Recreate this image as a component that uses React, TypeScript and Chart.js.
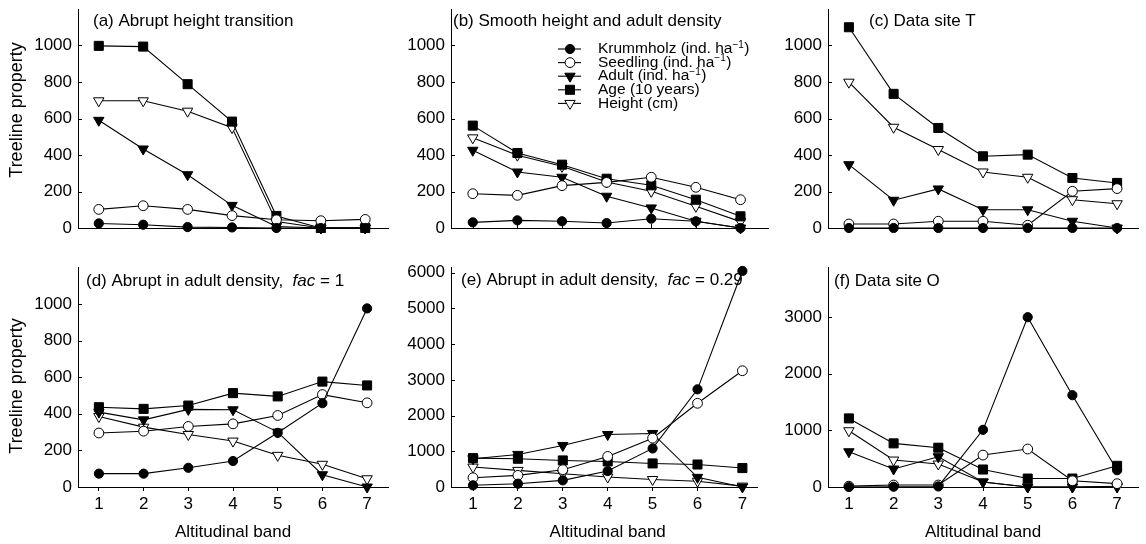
import React, { useEffect, useRef } from "react";
import { Chart, registerables } from "chart.js";
Chart.register(...registerables);

const FONT = '"Liberation Sans", Arial, Helvetica, sans-serif';

const bands = [1, 2, 3, 4, 5, 6, 7];
const seriesNames = ["Krummholz", "Seedling", "Adult", "Age", "Height"];
const legendMain = ["Krummholz (ind. ha", "Seedling (ind. ha", "Adult (ind. ha", "Age (10 years)", "Height (cm)"];
const legendSup = ["−1", "−1", "−1", "", ""];
const legendTail = [")", ")", ")", "", ""];

const yTicksSmall = [0, 200, 400, 600, 800, 1000];
const yTicksE = [0, 1000, 2000, 3000, 4000, 5000, 6000];
const yTicksF = [0, 1000, 2000, 3000];

// (a) Abrupt height transition
const aKrummholz = [25, 18, 5, 3, 0, 0, 0];
const aSeedling = [102, 122, 102, 68, 45, 40, 47];
const aAdult = [590, 433, 292, 124, 8, 0, 0];
const aAge = [998, 994, 788, 583, 66, 0, 0];
const aHeight = [697, 697, 640, 550, 35, 0, 0];

// (b) Smooth height and adult density
const bKrummholz = [31, 42, 37, 27, 51, 37, 0];
const bSeedling = [188, 179, 232, 250, 278, 223, 155];
const bAdult = [426, 307, 278, 174, 110, 37, 0];
const bAge = [561, 411, 347, 270, 234, 155, 64];
const bHeight = [494, 399, 338, 252, 201, 119, 35];

// (c) Data site T
const cKrummholz = [0, 0, 0, 0, 0, 0, 0];
const cSeedling = [22, 22, 37, 37, 15, 201, 216];
const cAdult = [347, 152, 214, 100, 100, 37, 0];
const cAge = [1100, 735, 548, 393, 402, 274, 247];
const cHeight = [799, 552, 430, 307, 278, 155, 133];

// (d) Abrupt in adult density, fac = 1
const dKrummholz = [73, 73, 105, 142, 296, 458, 976];
const dSeedling = [295, 305, 331, 345, 391, 505, 460];
const dAdult = [409, 367, 424, 422, 300, 67, 0];
const dAge = [436, 427, 445, 513, 495, 576, 555];
const dHeight = [385, 327, 287, 251, 173, 124, 45];

// (e) Abrupt in adult density, fac = 0.29
const eKrummholz = [47, 93, 186, 447, 1080, 2735, 6050];
const eSeedling = [260, 326, 484, 856, 1367, 2344, 3256];
const eAdult = [791, 912, 1163, 1470, 1500, 270, 0];
const eAge = [809, 791, 744, 716, 660, 630, 530];
const eHeight = [558, 465, 372, 279, 210, 160, 25];

// (f) Data site O
const fKrummholz = [0, 5, 10, 1010, 3000, 1622, 297];
const fSeedling = [15, 35, 35, 564, 671, 110, 59];
const fAdult = [623, 318, 535, 89, 0, 0, 0];
const fAge = [1212, 771, 694, 309, 149, 149, 374];
const fHeight = [994, 476, 406, 89, 0, 0, 12];

const markerStyles = [
  { pointStyle: "circle", fill: "#000", radius: 4.6, rotation: 0 },
  { pointStyle: "circle", fill: "#fff", radius: 4.9, rotation: 0 },
  { pointStyle: "triangle", fill: "#000", radius: 6, rotation: 180 },
  { pointStyle: "rect", fill: "#000", radius: 6.4, rotation: 0 },
  { pointStyle: "triangle", fill: "#fff", radius: 6, rotation: 180 },
];

type TitlePart = { text: string; italic?: boolean };

interface PanelCfg {
  key: string;
  left: number;
  top: number;
  w: number;
  h: number;
  axisX: number;
  right: number;
  plotTop: number;
  plotBottom: number;
  band1X: number;
  spacing: number;
  yMax: number;
  yTicks: number[];
  bottomRow: boolean;
  title: TitlePart[];
  titleX: number;
  titleY: number;
  yTitleY: number;
  yTitle: boolean;
  legend: boolean;
  series: number[][];
}

const panels: PanelCfg[] = [
  { key: "a", left: 0, top: 0, w: 396, h: 260, axisX: 78, right: 392, plotTop: 9, plotBottom: 228, band1X: 99, spacing: 44.9, yMax: 1200, yTicks: yTicksSmall, bottomRow: false, title: [{ text: "(a) Abrupt height transition" }], titleX: 93, titleY: 21, yTitleY: 110, yTitle: true, legend: false, series: [aKrummholz, aSeedling, aAdult, aAge, aHeight] },
  { key: "b", left: 381, top: 0, w: 395, h: 260, axisX: 451, right: 772, plotTop: 9, plotBottom: 228, band1X: 473, spacing: 45.1, yMax: 1200, yTicks: yTicksSmall, bottomRow: false, title: [{ text: "(b) Smooth height and adult density" }], titleX: 453, titleY: 21, yTitleY: 0, yTitle: false, legend: true, series: [bKrummholz, bSeedling, bAdult, bAge, bHeight] },
  { key: "c", left: 760, top: 0, w: 386, h: 260, axisX: 828, right: 1140, plotTop: 9, plotBottom: 228, band1X: 849, spacing: 44.9, yMax: 1200, yTicks: yTicksSmall, bottomRow: false, title: [{ text: "(c) Data site T" }], titleX: 869, titleY: 21, yTitleY: 0, yTitle: false, legend: false, series: [cKrummholz, cSeedling, cAdult, cAge, cHeight] },
  { key: "d", left: 0, top: 260, w: 396, h: 284, axisX: 78, right: 390, plotTop: 267, plotBottom: 487, band1X: 99, spacing: 44.9, yMax: 1200, yTicks: yTicksSmall, bottomRow: true, title: [{ text: "(d) Abrupt in adult density,  " }, { text: "fac", italic: true }, { text: " = 1" }], titleX: 86, titleY: 281, yTitleY: 386, yTitle: true, legend: false, series: [dKrummholz, dSeedling, dAdult, dAge, dHeight] },
  { key: "e", left: 381, top: 260, w: 395, h: 284, axisX: 451, right: 757, plotTop: 267, plotBottom: 487, band1X: 473, spacing: 44.9, yMax: 6150, yTicks: yTicksE, bottomRow: true, title: [{ text: "(e) Abrupt in adult density,  " }, { text: "fac", italic: true }, { text: " = 0.29" }], titleX: 461, titleY: 280, yTitleY: 0, yTitle: false, legend: false, series: [eKrummholz, eSeedling, eAdult, eAge, eHeight] },
  { key: "f", left: 760, top: 260, w: 386, h: 284, axisX: 828, right: 1140, plotTop: 267, plotBottom: 487, band1X: 849, spacing: 44.9, yMax: 3880, yTicks: yTicksF, bottomRow: true, title: [{ text: "(f) Data site O" }], titleX: 834, titleY: 281, yTitleY: 0, yTitle: false, legend: false, series: [fKrummholz, fSeedling, fAdult, fAge, fHeight] },
];

function drawMarker(ctx: CanvasRenderingContext2D, i: number, x: number, y: number) {
  const s = markerStyles[i];
  ctx.save();
  ctx.beginPath();
  if (s.pointStyle === "circle") {
    ctx.arc(x, y, s.radius, 0, Math.PI * 2);
  } else if (s.pointStyle === "rect") {
    const h = s.radius * Math.SQRT1_2;
    ctx.rect(x - h, y - h, 2 * h, 2 * h);
  } else {
    const r = s.radius;
    ctx.moveTo(x, y + r);
    ctx.lineTo(x + r * Math.sin((2 * Math.PI) / 3), y - r * 0.5);
    ctx.lineTo(x - r * Math.sin((2 * Math.PI) / 3), y - r * 0.5);
    ctx.closePath();
  }
  ctx.fillStyle = s.fill;
  ctx.fill();
  ctx.lineWidth = 1;
  ctx.strokeStyle = "#000";
  ctx.stroke();
  ctx.restore();
}

function Panel({ cfg }: { cfg: PanelCfg }) {
  const ref = useRef<HTMLCanvasElement | null>(null);
  useEffect(() => {
    const canvas = ref.current;
    if (!canvas) return;
    const xMin = 1 - (cfg.band1X - cfg.axisX) / cfg.spacing;
    const xMax = 1 + (cfg.right - cfg.band1X) / cfg.spacing;
    const yW = cfg.axisX - cfg.left;
    const xH = cfg.top + cfg.h - cfg.plotBottom;

    const overlay = {
      id: "overlay" + cfg.key,
      afterDraw(chart: any) {
        const ctx: CanvasRenderingContext2D = chart.ctx;
        const area = chart.chartArea;
        const ys = chart.scales.y;
        const xs = chart.scales.x;
        ctx.save();
        ctx.strokeStyle = "#000";
        ctx.lineWidth = 1;
        // inward y ticks
        cfg.yTicks.forEach((v) => {
          const y = Math.round(ys.getPixelForValue(v)) + 0.5;
          ctx.beginPath();
          ctx.moveTo(area.left, y);
          ctx.lineTo(area.left + 4, y);
          ctx.stroke();
        });
        if (!cfg.bottomRow) {
          bands.forEach((b) => {
            const x = Math.round(xs.getPixelForValue(b)) + 0.5;
            ctx.beginPath();
            ctx.moveTo(x, area.bottom);
            ctx.lineTo(x, area.bottom - 4);
            ctx.stroke();
          });
        }
        ctx.fillStyle = "#000";
        ctx.textBaseline = "middle";
        ctx.textAlign = "left";
        // panel title
        let tx = cfg.titleX - cfg.left;
        const ty = cfg.titleY - cfg.top;
        cfg.title.forEach((p) => {
          ctx.font = (p.italic ? "italic " : "") + "17px " + FONT;
          ctx.fillText(p.text, tx, ty);
          tx += ctx.measureText(p.text).width;
        });
        // y title
        if (cfg.yTitle) {
          ctx.save();
          ctx.font = "18px " + FONT;
          ctx.translate(17 - cfg.left, cfg.yTitleY - cfg.top);
          ctx.rotate(-Math.PI / 2);
          ctx.textAlign = "center";
          ctx.fillText("Treeline property", 0, 0);
          ctx.restore();
        }
        // x title
        if (cfg.bottomRow) {
          ctx.font = "17px " + FONT;
          ctx.textAlign = "center";
          ctx.fillText("Altitudinal band", xs.getPixelForValue(4), 532 - cfg.top);
        }
        // legend
        if (cfg.legend) {
          ctx.textAlign = "left";
          for (let i = 0; i < seriesNames.length; i++) {
            const ly = 49 + i * 13.6 - cfg.top;
            const lx0 = 558 - cfg.left;
            ctx.beginPath();
            ctx.moveTo(lx0, ly);
            ctx.lineTo(lx0 + 23, ly);
            ctx.lineWidth = 1.1;
            ctx.stroke();
            drawMarker(ctx, i, lx0 + 12, ly);
            let lx = 598 - cfg.left;
            ctx.font = "15.5px " + FONT;
            ctx.fillStyle = "#000";
            ctx.fillText(legendMain[i], lx, ly);
            lx += ctx.measureText(legendMain[i]).width;
            if (legendSup[i]) {
              ctx.font = "10px " + FONT;
              ctx.fillText(legendSup[i], lx, ly - 4);
              lx += ctx.measureText(legendSup[i]).width + 0.5;
              ctx.font = "15.5px " + FONT;
              ctx.fillText(legendTail[i], lx, ly);
            }
          }
        }
        ctx.restore();
      },
    };

    const chart = new Chart(canvas, {
      type: "line",
      data: {
        datasets: cfg.series.map((vals, i) => ({
          label: seriesNames[i],
          data: bands.map((b, j) => ({ x: b, y: vals[j] })),
          borderColor: "#000",
          borderWidth: 1.1,
          backgroundColor: markerStyles[i].fill,
          pointBackgroundColor: markerStyles[i].fill,
          pointBorderColor: "#000",
          pointBorderWidth: 1,
          pointStyle: markerStyles[i].pointStyle as any,
          pointRadius: markerStyles[i].radius,
          pointRotation: markerStyles[i].rotation,
          tension: 0,
          fill: false,
          clip: false as any,
        })),
      },
      options: {
        animation: false,
        responsive: false,
        devicePixelRatio: 1,
        layout: { padding: { top: cfg.plotTop - cfg.top, right: cfg.left + cfg.w - cfg.right, left: 0, bottom: 0 } },
        plugins: { legend: { display: false }, tooltip: { enabled: false }, title: { display: false } },
        scales: {
          x: {
            type: "linear",
            min: xMin,
            max: xMax,
            afterBuildTicks: (s: any) => {
              s.ticks = bands.map((v) => ({ value: v }));
            },
            afterFit: (s: any) => {
              s.height = xH;
              s.paddingLeft = 0;
              s.paddingRight = 0;
            },
            ticks: {
              display: cfg.bottomRow,
              color: "#000",
              font: { family: FONT, size: 17 },
              padding: 3,
              maxRotation: 0,
              autoSkip: false,
              callback: (v: any) => String(v),
            },
            grid: { display: true, drawOnChartArea: false, drawTicks: cfg.bottomRow, tickLength: 4, color: "#000", lineWidth: 1 },
            border: { display: true, color: "#000", width: 1 },
          },
          y: {
            type: "linear",
            min: 0,
            max: cfg.yMax,
            afterBuildTicks: (s: any) => {
              s.ticks = cfg.yTicks.map((v) => ({ value: v }));
            },
            afterFit: (s: any) => {
              s.width = yW;
              s.paddingTop = 0;
              s.paddingBottom = 0;
            },
            ticks: {
              color: "#000",
              font: { family: FONT, size: 17 },
              padding: 6,
              callback: (v: any) => String(v),
            },
            grid: { display: true, drawOnChartArea: false, drawTicks: false, color: "#000" },
            border: { display: true, color: "#000", width: 1 },
          },
        },
      } as any,
      plugins: [overlay],
    });
    return () => chart.destroy();
  }, [cfg]);
  return (
    <canvas
      ref={ref}
      width={cfg.w}
      height={cfg.h}
      style={{ position: "absolute", left: cfg.left, top: cfg.top, width: cfg.w, height: cfg.h }}
    />
  );
}

export default function App() {
  return (
    <div style={{ position: "fixed", left: 0, top: 0, width: 1146, height: 544, background: "#fff", overflow: "hidden" }}>
      {panels.map((p) => (
        <Panel key={p.key} cfg={p} />
      ))}
    </div>
  );
}
